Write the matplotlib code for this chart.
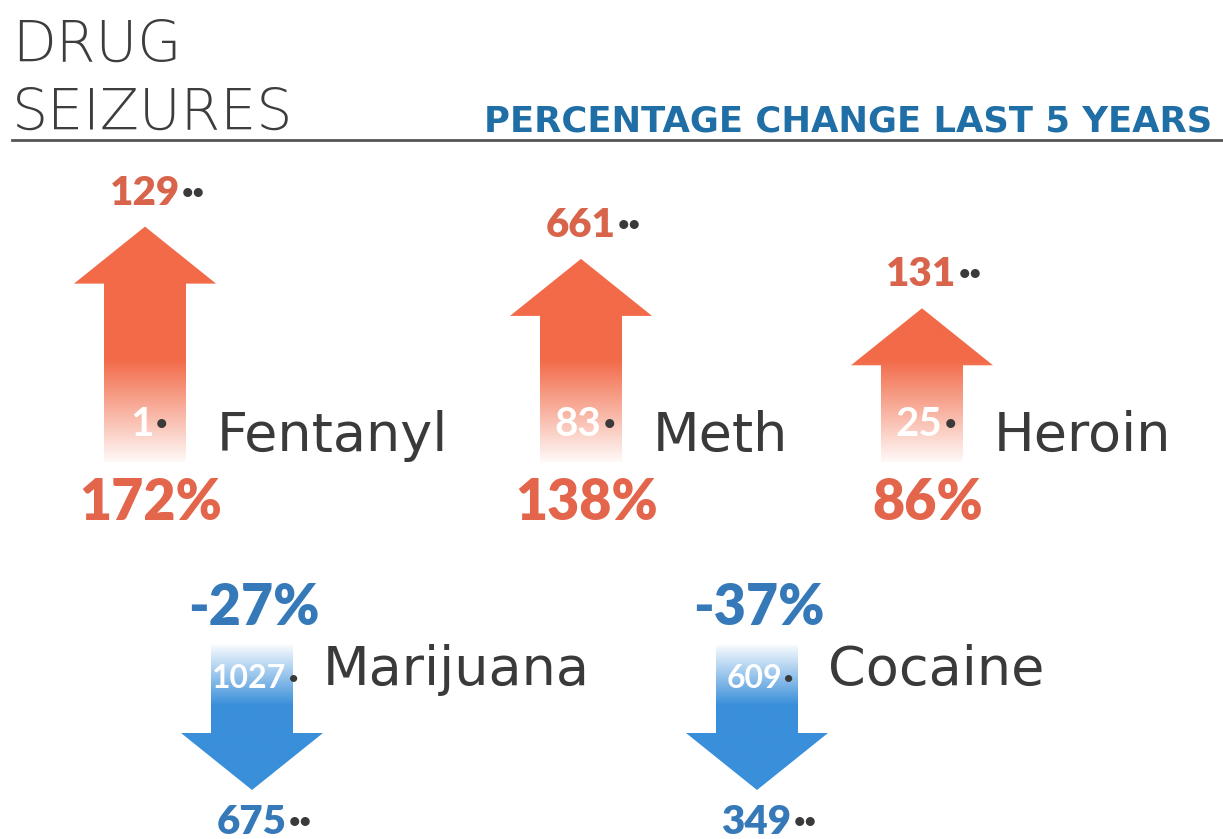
import numpy as np
import matplotlib
matplotlib.use('Agg')
import matplotlib.pyplot as plt
from matplotlib.patches import Polygon
from matplotlib.colors import to_rgb

drugs = ['Fentanyl', 'Meth', 'Heroin', 'Marijuana', 'Cocaine']
before = [1, 83, 25, 1027, 609]
after = [129, 661, 131, 675, 349]
pct_change = [172, 138, 86, -27, -37]

# layout (pixel units, y grows downward)
W, H = 1223, 839
centers = [145, 581, 922, 252, 757]
up_base = 462
down_top = 645
down_len = 145
shaft_half, head_half, head_h = 41, 71, 57

up_col = '#f26a48'
up_txt = '#e2654c'
up_cnt = '#d8644c'
dn_col = '#3a8fda'
dn_txt = '#3579b8'
dark = '#3a3a3a'
num_font = ['Lato', 'DejaVu Sans']
lab_font = ['DejaVu Sans']

fig = plt.figure(figsize=(W / 100, H / 100), dpi=100)
ax = fig.add_axes([0, 0, 1, 1])
ax.set_xlim(0, W)
ax.set_ylim(H, 0)
ax.axis('off')
renderer = fig.canvas.get_renderer()


def two_tone(x, y, main, tail, c_main, c_tail, size, weight='heavy'):
    # number + trailing dots in another colour, centred as one string
    t1 = ax.text(x, y, main, color=c_main, fontsize=size, fontweight=weight,
                 family=num_font, ha='left', va='baseline', zorder=3)
    t2 = ax.text(x, y, tail, color=c_tail, fontsize=size, fontweight='heavy',
                 family=num_font, ha='left', va='baseline', zorder=3)
    w1 = t1.get_window_extent(renderer).width
    w2 = t2.get_window_extent(renderer).width
    x0 = x - (w1 + w2) / 2
    t1.set_x(x0)
    t2.set_x(x0 + w1 + 2)


def gradient_arrow(cx, tip, tail, color, fade_from, fade_to):
    up = tip < tail
    s = 1 if up else -1
    hb = tip + s * head_h
    pts = [(cx - shaft_half, tail), (cx - shaft_half, hb), (cx - head_half, hb),
           (cx, tip), (cx + head_half, hb), (cx + shaft_half, hb),
           (cx + shaft_half, tail)]
    poly = Polygon(pts, closed=True, fill=False, lw=0)
    ax.add_patch(poly)
    top, bot = min(tip, tail), max(tip, tail)
    ys = np.linspace(top, bot, 300)
    # amount of colour: 1 = full, small = almost white
    a = np.clip((ys - fade_to) / (fade_from - fade_to), 0, 1)
    a = 0.04 + 0.96 * a
    rgb = np.array(to_rgb(color))
    img = 1 - a[:, None] * (1 - rgb[None, :])
    img = img[:, None, :]
    im = ax.imshow(img, extent=[cx - head_half, cx + head_half, bot, top],
                   origin='upper', aspect='auto', interpolation='bilinear', zorder=1)
    im.set_clip_path(poly)


# header
ax.text(12, 62, 'DRUG', fontsize=41, family=lab_font, fontweight='light',
        color='#3d3d3d', va='baseline')
ax.text(12, 130, 'SEIZURES', fontsize=41, family=lab_font, fontweight='light',
        color='#3d3d3d', va='baseline')
ax.text(1212, 132, 'PERCENTAGE CHANGE LAST 5 YEARS', fontsize=25.5, family=lab_font,
        fontweight='bold', color='#1f6ea6', ha='right', va='baseline')
ax.plot([12, W], [140, 140], color='#555555', lw=2)

for i, name in enumerate(drugs):
    cx = centers[i]
    p = pct_change[i]
    if p > 0:
        tip = up_base - (72 + 0.95 * p)
        gradient_arrow(cx, tip, up_base, up_col, 360, up_base)
        two_tone(cx + 11, tip - 22, str(after[i]), '··', up_cnt, dark, 29)
        two_tone(cx + 3, 436, str(before[i]), '·', 'white', dark, 29, 'bold')
        ax.text(cx + 6, 520, f'{p}%', color=up_txt, fontsize=40, fontweight='heavy',
                family=num_font, ha='center', va='baseline', zorder=3)
        ax.text(cx + 72, 451, name, color=dark, fontsize=39, family=lab_font,
                va='baseline')
    else:
        tip = down_top + down_len
        gradient_arrow(cx, tip, down_top, dn_col, 705, down_top)
        ax.text(cx + 2, 625, f'-{abs(p)}%', color=dn_txt, fontsize=40,
                fontweight='heavy', family=num_font, ha='center', va='baseline')
        two_tone(cx + 2, 688, str(before[i]), '·', 'white', dark, 23, 'bold')
        two_tone(cx + 11, 834, str(after[i]), '··', dn_txt, dark, 29)
        ax.text(cx + 71, 685, name, color=dark, fontsize=39, family=lab_font,
                va='baseline')

fig.savefig('out.png', dpi=100, facecolor='white')
